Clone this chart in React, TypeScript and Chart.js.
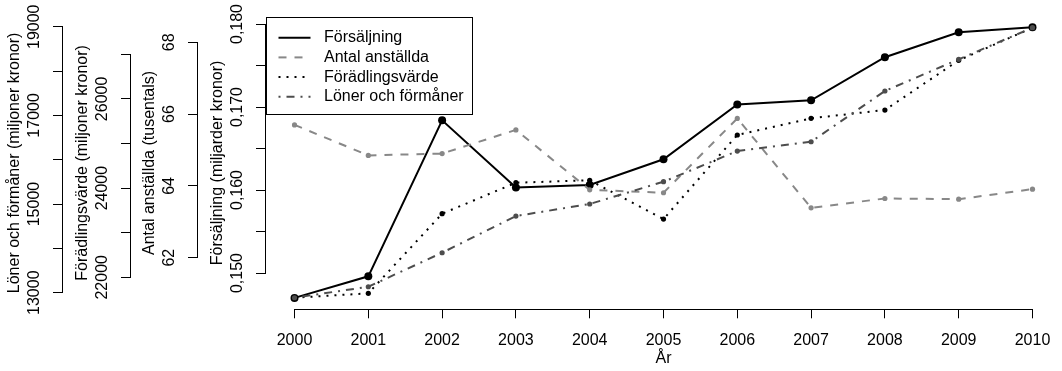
import React, { useEffect, useRef } from 'react';
import { Chart, registerables } from 'chart.js';

Chart.register(...registerables);

// ---------- data ----------
const years = [2000, 2001, 2002, 2003, 2004, 2005, 2006, 2007, 2008, 2009, 2010];
const yearTickLabels = years.map((y) => String(y));

const seriesLabels = ['Försäljning', 'Antal anställda', 'Förädlingsvärde', 'Löner och förmåner'];

// Försäljning (miljarder kronor)
const salesValues = [0.1470, 0.1496, 0.1684, 0.1603, 0.1606, 0.1637, 0.1703, 0.1708, 0.1760, 0.1790, 0.1796];
// Antal anställda (tusentals)
const staffValues = [65.70, 64.85, 64.90, 65.56, 63.89, 63.81, 65.88, 63.39, 63.65, 63.63, 63.91];
// Förädlingsvärde (miljoner kronor)
const valueAddedValues = [21543, 21641, 23426, 24121, 24175, 23307, 25191, 25565, 25751, 26865, 27596];
// Löner och förmåner (miljoner kronor)
const wageValues = [12887, 13135, 13902, 14730, 15001, 15504, 16196, 16406, 17550, 18265, 18978];

const salesTicks = [0.150, 0.155, 0.160, 0.165, 0.170, 0.175, 0.180];
const salesTickLabels = ['0,150', '', '0,160', '', '0,170', '', '0,180'];
const staffTicks = [62, 64, 66, 68];
const staffTickLabels = ['62', '64', '66', '68'];
const valueAddedTicks = [22000, 23000, 24000, 25000, 26000, 27000];
const valueAddedTickLabels = ['22000', '', '24000', '', '26000', ''];
const wageTicks = [13000, 14000, 15000, 16000, 17000, 18000, 19000];
const wageTickLabels = ['13000', '', '15000', '', '17000', '', '19000'];

const axisTitles = {
  sales: 'Försäljning (miljarder kronor)',
  staff: 'Antal anställda (tusentals)',
  valueAdded: 'Förädlingsvärde (miljoner kronor)',
  wages: 'Löner och förmåner (miljoner kronor)',
  x: 'År',
};

// ---------- helpers ----------
const FONT = "'Liberation Sans', Arial, Helvetica, sans-serif";

const align = (v: number) => Math.round(v - 0.5) + 0.5;

const rAxisLines = {
  id: 'rAxisLines',
  afterDraw(chart: any) {
    const ctx = chart.ctx;
    ctx.save();
    ctx.strokeStyle = '#000';
    ctx.lineWidth = 1;
    ctx.setLineDash([]);
    Object.keys(chart.scales).forEach((id) => {
      const s = chart.scales[id];
      const t = s.ticks;
      if (!t || !t.length) return;
      const p0 = s.getPixelForValue(t[0].value);
      const p1 = s.getPixelForValue(t[t.length - 1].value);
      ctx.beginPath();
      if (s.axis === 'x') {
        const y = align(s.top);
        ctx.moveTo(align(p0) - 0.5, y);
        ctx.lineTo(align(p1) + 0.5, y);
      } else {
        const x = align(s.right);
        ctx.moveTo(x, align(p0) + 0.5);
        ctx.lineTo(x, align(p1) - 0.5);
      }
      ctx.stroke();
    });
    ctx.restore();
  },
};

const boxLegend = {
  id: 'boxLegend',
  afterDraw(chart: any) {
    const ctx = chart.ctx;
    const ca = chart.chartArea;
    const x0 = Math.round(ca.left + 1) + 0.5;
    const y0 = Math.round(ca.top) + 0.5;
    const w = 206;
    const h = 97;
    ctx.save();
    ctx.fillStyle = '#fff';
    ctx.fillRect(x0, y0, w, h);
    ctx.strokeStyle = '#000';
    ctx.lineWidth = 1;
    ctx.setLineDash([]);
    ctx.strokeRect(x0, y0, w, h);
    ctx.font = `16px ${FONT}`;
    ctx.textBaseline = 'middle';
    ctx.textAlign = 'left';
    chart.data.datasets.forEach((ds: any, i: number) => {
      const cy = y0 + 20.2 + i * 19.7;
      ctx.beginPath();
      ctx.strokeStyle = ds.borderColor;
      ctx.lineWidth = ds.borderWidth;
      ctx.lineCap = 'butt';
      ctx.setLineDash(ds.borderDash || []);
      ctx.moveTo(x0 + 12, cy);
      ctx.lineTo(x0 + 44, cy);
      ctx.stroke();
      ctx.setLineDash([]);
      ctx.fillStyle = '#000';
      ctx.fillText(ds.label, x0 + 57.5, cy);
    });
    ctx.restore();
  },
};

function yAxis(opts: {
  weight: number;
  min: number;
  max: number;
  ticks: number[];
  labels: string[];
  title: string;
  width: number;
  tickPadding: number;
  titlePad: number;
}) {
  return {
    type: 'linear',
    position: 'left',
    weight: opts.weight,
    min: opts.min,
    max: opts.max,
    bounds: 'data',
    afterBuildTicks: (s: any) => {
      s.ticks = opts.ticks.map((v) => ({ value: v }));
    },
    ticks: {
      callback: (_v: any, i: number) => opts.labels[i],
      minRotation: 90,
      maxRotation: 90,
      autoSkip: false,
      crossAlign: 'center',
      padding: opts.tickPadding,
      color: '#000',
      font: { family: FONT, size: 16 },
    },
    grid: {
      drawOnChartArea: false,
      drawTicks: true,
      tickLength: 9,
      color: '#000',
      tickColor: '#000',
      lineWidth: 1,
    },
    border: { display: false },
    title: {
      display: true,
      text: opts.title,
      color: '#000',
      font: { family: FONT, size: 16 },
      padding: { top: opts.titlePad, bottom: 0 },
    },
    afterFit: (s: any) => {
      s.width = opts.width;
      s.paddingTop = 0;
      s.paddingBottom = 0;
    },
  };
}

export default function App() {
  const canvasRef = useRef<HTMLCanvasElement | null>(null);

  useEffect(() => {
    document.body.style.margin = '0';
    const canvas = canvasRef.current;
    if (!canvas) return;

    const pts = (vals: number[]) => years.map((x, i) => ({ x, y: vals[i] }));

    const chart = new Chart(canvas, {
      type: 'line',
      data: {
        datasets: [
          {
            label: seriesLabels[0],
            data: pts(salesValues),
            yAxisID: 'ySales',
            borderColor: '#000000',
            backgroundColor: '#000000',
            borderWidth: 2,
            borderDash: [],
            pointRadius: 4,
            pointBackgroundColor: '#000000',
            pointBorderWidth: 0,
            tension: 0,
            order: 4,
          },
          {
            label: seriesLabels[1],
            data: pts(staffValues),
            yAxisID: 'yStaff',
            borderColor: '#888888',
            backgroundColor: '#888888',
            borderWidth: 2,
            borderDash: [8, 8],
            pointRadius: 2.6,
            pointBackgroundColor: '#888888',
            pointBorderWidth: 0,
            tension: 0,
            order: 3,
          },
          {
            label: seriesLabels[2],
            data: pts(valueAddedValues),
            yAxisID: 'yValueAdded',
            borderColor: '#000000',
            backgroundColor: '#000000',
            borderWidth: 2,
            borderDash: [2, 6],
            pointRadius: 2.6,
            pointBackgroundColor: '#000000',
            pointBorderWidth: 0,
            tension: 0,
            order: 2,
          },
          {
            label: seriesLabels[3],
            data: pts(wageValues),
            yAxisID: 'yWages',
            borderColor: '#4d4d4d',
            backgroundColor: '#4d4d4d',
            borderWidth: 2,
            borderDash: [2, 6, 8, 6],
            pointRadius: 2.6,
            pointBackgroundColor: '#4d4d4d',
            pointBorderWidth: 0,
            tension: 0,
            order: 1,
          },
        ],
      },
      options: {
        responsive: false,
        animation: false,
        devicePixelRatio: 1,
        events: [],
        layout: { autoPadding: false, padding: { top: 16.5, left: 0, right: 0, bottom: 0 } },
        font: { family: FONT, size: 16 },
        color: '#000',
        plugins: {
          legend: { display: false },
          tooltip: { enabled: false },
        },
        scales: {
          x: {
            type: 'linear',
            min: 1999.6,
            max: 2010.4,
            bounds: 'data',
            afterBuildTicks: (s: any) => {
              s.ticks = years.map((v) => ({ value: v }));
            },
            ticks: {
              callback: (_v: any, i: number) => yearTickLabels[i],
              minRotation: 0,
              maxRotation: 0,
              autoSkip: false,
              padding: 13,
              color: '#000',
              font: { family: FONT, size: 16 },
            },
            grid: {
              drawOnChartArea: false,
              drawTicks: true,
              tickLength: 9,
              color: '#000',
              tickColor: '#000',
              lineWidth: 1,
            },
            border: { display: false },
            title: {
              display: true,
              text: axisTitles.x,
              color: '#000',
              font: { family: FONT, size: 16 },
              padding: { top: 0, bottom: 3 },
            },
            afterFit: (s: any) => {
              s.height = 61.7;
              s.paddingLeft = 0;
              s.paddingRight = 0;
            },
          },
          ySales: yAxis({
            weight: 1,
            min: 0.145627,
            max: 0.180904,
            ticks: salesTicks,
            labels: salesTickLabels,
            title: axisTitles.sales,
            width: 68,
            tickPadding: -1.5,
            titlePad: 11.1,
          }),
          yStaff: yAxis({
            weight: 2,
            min: 60.563,
            max: 68.719,
            ticks: staffTicks,
            labels: staffTickLabels,
            title: axisTitles.staff,
            width: 67,
            tickPadding: 9.6,
            titlePad: 10.1,
          }),
          yValueAdded: yAxis({
            weight: 3,
            min: 21283,
            max: 27848,
            ticks: valueAddedTicks,
            labels: valueAddedTickLabels,
            title: axisTitles.valueAdded,
            width: 68,
            tickPadding: -3.7,
            titlePad: 11.1,
          }),
          yWages: yAxis({
            weight: 4,
            min: 12626,
            max: 19231,
            ticks: wageTicks,
            labels: wageTickLabels,
            title: axisTitles.wages,
            width: 62,
            tickPadding: -3.7,
            titlePad: 5.1,
          }),
        },
      } as any,
      plugins: [rAxisLines, boxLegend],
    });

    return () => {
      chart.destroy();
    };
  }, []);

  return (
    <div style={{ width: 1062, height: 371, background: '#fff' }}>
      <canvas ref={canvasRef} width={1062} height={371} style={{ display: 'block' }} />
    </div>
  );
}
